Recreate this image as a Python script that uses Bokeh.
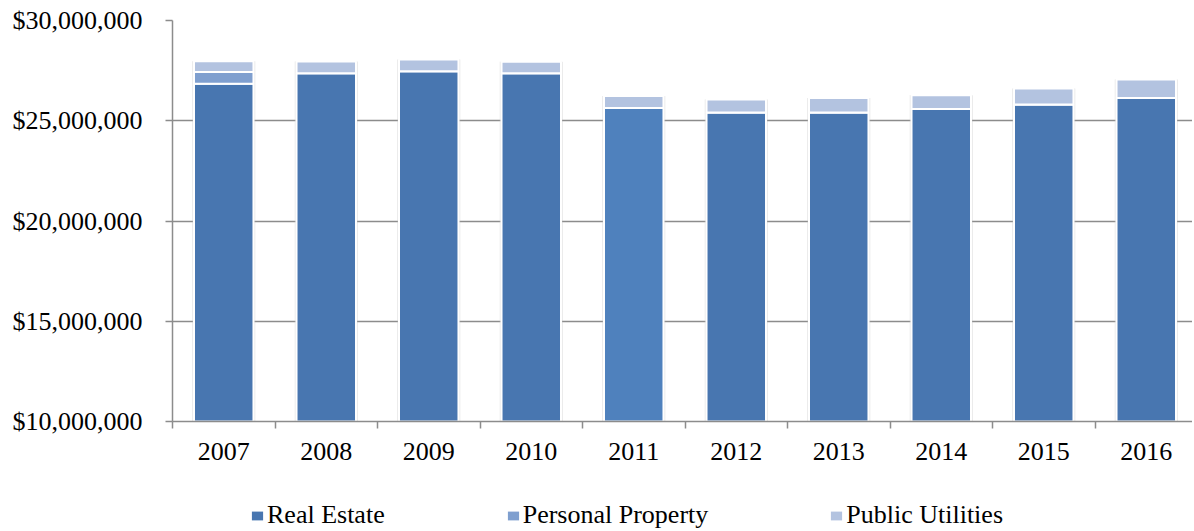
from bokeh.plotting import figure
from bokeh.layouts import column
from bokeh.models import (Range1d, FixedTicker, NumeralTickFormatter, Legend,
                          LegendItem, ColumnDataSource)
from bokeh.embed import file_html
from bokeh.resources import INLINE

# ---- data (millions of dollars) ----
years = ["2007", "2008", "2009", "2010", "2011", "2012", "2013", "2014", "2015", "2016"]
real_estate = [26.84, 27.37, 27.47, 27.37, 25.63, 25.41, 25.41, 25.58, 25.81, 26.13]
personal_property = [0.59, 0.0, 0.0, 0.0, 0.0, 0.0, 0.0, 0.0, 0.0, 0.0]
public_utilities = [0.54, 0.58, 0.58, 0.57, 0.61, 0.65, 0.72, 0.69, 0.80, 0.93]
y_ticks = [10, 15, 20, 25, 30]
series_names = ["Real Estate", "Personal Property", "Public Utilities"]

RE_COLOR = "#4876B0"
RE_COLOR_2011 = "#4F81BD"
PP_COLOR = "#7F9FCF"
PU_COLOR = "#B3C3E0"
FONT = "Liberation Serif"
GRAY = "#8c8c8c"

xs = list(range(len(years)))
re_top = [v * 1e6 for v in real_estate]
pp_top = [(a + b) * 1e6 for a, b in zip(real_estate, personal_property)]
pu_top = [(a + b + c) * 1e6 for a, b, c in zip(real_estate, personal_property, public_utilities)]
re_colors = [RE_COLOR_2011 if y == "2011" else RE_COLOR for y in years]

src = ColumnDataSource(dict(x=xs, re_top=re_top, pp_top=pp_top, pu_top=pu_top,
                            re_color=re_colors))

TOTAL_W = 1192
cat_px = 102.5
frame_w = 1020
frame_h = 401
p = figure(frame_width=frame_w, frame_height=frame_h,
           output_backend="svg", toolbar_location=None,
           x_range=Range1d(-0.5, -0.5 + frame_w / cat_px),
           y_range=Range1d(10e6, 30e6),
           min_border_left=172, min_border_right=0, min_border_top=20,
           min_border_bottom=58)
p.outline_line_color = None
p.background_fill_color = "white"

BW = 0.58
# soft shadow
p.vbar(x="x", bottom=0, top="pu_top", width=BW + 0.035, source=src,
       fill_color="#c0c0c0", fill_alpha=0.4, line_color=None)
p.vbar(x="x", bottom=0, top="re_top", width=BW, source=src,
       fill_color="re_color", line_color="white", line_width=2)
p.vbar(x="x", bottom="re_top", top="pp_top", width=BW, source=src,
       fill_color=PP_COLOR, line_color="white", line_width=2)
p.vbar(x="x", bottom="pp_top", top="pu_top", width=BW, source=src,
       fill_color=PU_COLOR, line_color="white", line_width=2)

# y axis
p.yaxis.ticker = FixedTicker(ticks=[t * 1e6 for t in y_ticks])
p.yaxis.formatter = NumeralTickFormatter(format="$0,0")
p.yaxis.major_label_text_font = FONT
p.yaxis.major_label_text_font_size = "26px"
p.yaxis.major_label_text_color = "black"
p.yaxis.axis_line_color = GRAY
p.yaxis.axis_line_width = 1.5
p.yaxis.major_tick_line_color = GRAY
p.yaxis.major_tick_line_width = 1.5
p.yaxis.major_tick_out = 7
p.yaxis.major_tick_in = 0
p.yaxis.minor_tick_line_color = None
p.yaxis.major_label_standoff = 23

# x axis
p.xaxis.ticker = FixedTicker(ticks=xs, minor_ticks=[i - 0.5 for i in range(len(years) + 1)])
p.xaxis.major_label_overrides = {i: y for i, y in enumerate(years)}
p.xaxis.major_label_text_font = FONT
p.xaxis.major_label_text_font_size = "26px"
p.xaxis.major_label_text_color = "black"
p.xaxis.axis_line_color = GRAY
p.xaxis.axis_line_width = 1.5
p.xaxis.major_tick_line_color = None
p.xaxis.major_tick_out = 0
p.xaxis.major_tick_in = 0
p.xaxis.minor_tick_line_color = GRAY
p.xaxis.minor_tick_line_width = 1.5
p.xaxis.minor_tick_out = 7
p.xaxis.minor_tick_in = 0
p.xaxis.major_label_standoff = 14

# grid
p.xgrid.grid_line_color = None
p.ygrid.ticker = FixedTicker(ticks=[15e6, 20e6, 25e6])
p.ygrid.grid_line_color = GRAY
p.ygrid.grid_line_width = 1.5

# ---- legend strip (separate figure below the chart; its frame aligns with the chart's) ----
leg = figure(width=TOTAL_W, height=51, output_backend="svg", toolbar_location=None,
             x_range=Range1d(0, 1), y_range=Range1d(0, 1),
             x_axis_location=None, y_axis_location=None,
             min_border_left=0, min_border_right=0, min_border_top=0, min_border_bottom=0)
leg.grid.visible = False
leg.outline_line_color = None

# off-range placeholder glyphs so the legend swatches get drawn
hidden = ColumnDataSource(dict(x=[-5], top=[-5], bottom=[-6]))
leg_r = []
for c in [RE_COLOR, PP_COLOR, PU_COLOR]:
    leg_r.append(leg.vbar(x="x", top="top", bottom="bottom", width=0.5, source=hidden,
                          fill_color=c, line_color=None))

legend = Legend(items=[LegendItem(label=n, renderers=[r]) for n, r in zip(series_names, leg_r)],
                orientation="horizontal", location=(78, 0),
                glyph_width=14, glyph_height=11, label_standoff=3, spacing=121,
                padding=0, margin=0, border_line_color=None, background_fill_alpha=0,
                label_text_font=FONT, label_text_font_size="26px",
                label_text_color="black")
leg.add_layout(legend, "center")

layout = column(p, leg, spacing=0)
open("out.html", "w").write(file_html(layout, INLINE))
